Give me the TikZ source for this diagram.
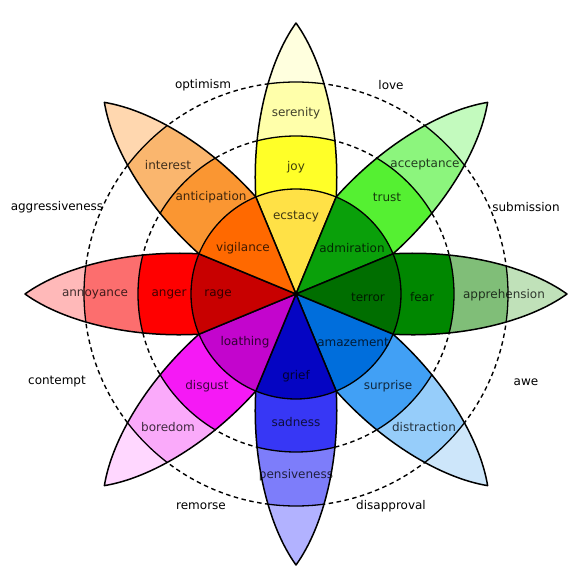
\documentclass[tikz,border=0pt]{standalone}
\usepackage{fontspec}
\setmainfont{DejaVu Sans}

% petal colours, innermost first
\definecolor{ecstacy}{RGB}{255,225,70}
\definecolor{joy}{RGB}{255,255,40}
\definecolor{serenity}{RGB}{255,255,170}
\definecolor{joytip}{RGB}{255,255,222}
\definecolor{admiration}{RGB}{10,160,10}
\definecolor{trust}{RGB}{85,240,50}
\definecolor{acceptance}{RGB}{140,245,125}
\definecolor{trusttip}{RGB}{195,250,190}
\definecolor{terror}{RGB}{0,110,0}
\definecolor{fear}{RGB}{0,135,0}
\definecolor{apprehension}{RGB}{128,190,120}
\definecolor{feartip}{RGB}{192,225,185}
\definecolor{amazement}{RGB}{0,110,220}
\definecolor{surprise}{RGB}{65,160,245}
\definecolor{distraction}{RGB}{150,205,250}
\definecolor{surprisetip}{RGB}{205,230,250}
\definecolor{grief}{RGB}{5,5,195}
\definecolor{sadness}{RGB}{55,55,245}
\definecolor{pensiveness}{RGB}{125,125,250}
\definecolor{sadnesstip}{RGB}{178,178,255}
\definecolor{loathing}{RGB}{195,5,205}
\definecolor{disgust}{RGB}{245,25,245}
\definecolor{boredom}{RGB}{250,170,250}
\definecolor{disgusttip}{RGB}{255,215,255}
\definecolor{rage}{RGB}{200,0,0}
\definecolor{anger}{RGB}{255,0,0}
\definecolor{annoyance}{RGB}{252,110,110}
\definecolor{angertip}{RGB}{255,185,185}
\definecolor{vigilance}{RGB}{255,105,0}
\definecolor{anticipation}{RGB}{250,150,50}
\definecolor{interest}{RGB}{250,182,110}
\definecolor{anticipationtip}{RGB}{255,215,175}

\tikzstyle{emotion} = [font=\fontsize{12}{14}\selectfont, text=black, text opacity=0.75, inner sep=1pt]
\tikzstyle{dyad} = [font=\fontsize{12}{14}\selectfont, text=black, inner sep=1pt]
\tikzstyle{outline} = [draw=black, line width=1.5pt, line join=round]
\tikzstyle{band} = [draw=black, line width=1.3pt]
\tikzstyle{ring} = [draw=black, line width=1.4pt, dash pattern=on 4.5pt off 3.5pt]

\newcommand{\petalshape}{(0,0) -- (97,40.2) .. controls (165,44) and (232,28) .. (271,0) .. controls (232,-28) and (165,-44) .. (97,-40.2) -- cycle}
% #1 angle, #2..#5 colours from centre to tip
\newcommand{\petal}[5]{%
  \begin{scope}[rotate=#1]
    \fill[#5] \petalshape;
    \begin{scope}
      \clip \petalshape;
      \fill[#4] (0,0) circle[radius=212];
      \fill[#3] (0,0) circle[radius=158];
      \fill[#2] (0,0) circle[radius=105];
      \path[band] (0,0) circle[radius=105] (0,0) circle[radius=158] (0,0) circle[radius=212];
    \end{scope}
    \path[outline] \petalshape;
  \end{scope}}

\begin{document}
\begin{tikzpicture}[x=1pt, y=1pt]
  \useasboundingbox (-296,-285) rectangle (285,294);

  % dashed rings behind the petals
  \path[ring] (0,0) circle[radius=158];
  \path[ring] (0,0) circle[radius=212];

  \petal{90}{ecstacy}{joy}{serenity}{joytip}
  \petal{45}{admiration}{trust}{acceptance}{trusttip}
  \petal{0}{terror}{fear}{apprehension}{feartip}
  \petal{-45}{amazement}{surprise}{distraction}{surprisetip}
  \petal{-90}{grief}{sadness}{pensiveness}{sadnesstip}
  \petal{-135}{loathing}{disgust}{boredom}{disgusttip}
  \petal{180}{rage}{anger}{annoyance}{angertip}
  \petal{135}{vigilance}{anticipation}{interest}{anticipationtip}

  % emotions
  \node[emotion] (serenity) at (0,181) {serenity};
  \node[emotion] (joy) at (0,127) {joy};
  \node[emotion] (ecstacy) at (0,77) {ecstacy};
  \node[emotion] (acceptance) at (129,129) {acceptance};
  \node[emotion] (trust) at (91,97) {trust};
  \node[emotion] (admiration) at (56,46) {admiration};
  \node[emotion] (apprehension) at (208,-1) {apprehension};
  \node[emotion] (fear) at (126,-3) {fear};
  \node[emotion] (terror) at (72,-3) {terror};
  \node[emotion] (distraction) at (128,-133) {distraction};
  \node[emotion] (surprise) at (92,-92) {surprise};
  \node[emotion] (amazement) at (57,-48) {amazement};
  \node[emotion] (pensiveness) at (0,-181) {pensiveness};
  \node[emotion] (sadness) at (0,-128) {sadness};
  \node[emotion] (grief) at (0,-82) {grief};
  \node[emotion] (boredom) at (-128,-133) {boredom};
  \node[emotion] (disgust) at (-89,-92) {disgust};
  \node[emotion] (loathing) at (-51,-48) {loathing};
  \node[emotion] (annoyance) at (-201,0) {annoyance};
  \node[emotion] (anger) at (-127,0) {anger};
  \node[emotion] (rage) at (-78,0) {rage};
  \node[emotion] (interest) at (-128,129) {interest};
  \node[emotion] (anticipation) at (-85,97) {anticipation};
  \node[emotion] (vigilance) at (-53,46) {vigilance};

  % dyads
  \node[dyad] (optimism) at (-93,209) {optimism};
  \node[dyad] (love) at (95,209) {love};
  \node[dyad] (aggressiveness) at (-239,87) {aggressiveness};
  \node[dyad] (submission) at (230,87) {submission};
  \node[dyad] (contempt) at (-239,-88) {contempt};
  \node[dyad] (awe) at (230,-88) {awe};
  \node[dyad] (remorse) at (-95,-212) {remorse};
  \node[dyad] (disapproval) at (95,-212) {disapproval};
\end{tikzpicture}
\end{document}
